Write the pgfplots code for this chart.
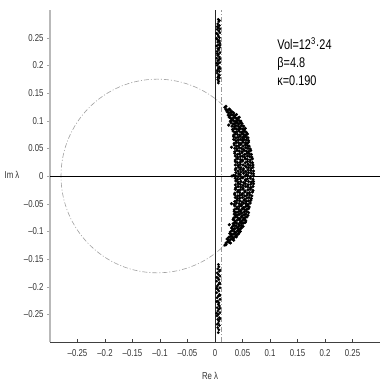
\documentclass[border=0pt]{standalone}
\usepackage{fontspec}
\setmainfont{Liberation Sans}
\newfontfamily\narrow[FakeStretch=0.78]{Liberation Sans}
\usepackage{pgfplots}
\usepackage{pgfplotstable}
\pgfplotsset{compat=1.18}

% eigenvalues: crescent near the real axis
\pgfplotstableread[row sep=\\]{x y\\
0.037 0.001\\ 0.042 -0.001\\ 0.046 0.002\\ 0.051 -0.002\\ 0.055 0.000\\ 0.060 0.001\\ 0.065 -0.001\\ 0.070 0.000\\ 0.031 0.000\\ 0.034 0.001\\
0.038 0.006\\ 0.043 0.004\\ 0.047 0.007\\ 0.052 0.005\\ 0.057 0.003\\ 0.061 0.006\\ 0.066 0.005\\ 0.070 0.004\\
0.037 -0.004\\ 0.041 -0.006\\ 0.046 -0.005\\ 0.050 -0.003\\ 0.055 -0.007\\ 0.059 -0.005\\ 0.064 -0.004\\ 0.069 -0.006\\
0.037 0.011\\ 0.042 0.009\\ 0.046 0.012\\ 0.051 0.010\\ 0.056 0.008\\ 0.060 0.011\\ 0.065 0.010\\ 0.070 0.009\\
0.038 -0.009\\ 0.042 -0.011\\ 0.047 -0.010\\ 0.052 -0.012\\ 0.056 -0.009\\ 0.061 -0.010\\ 0.066 -0.011\\ 0.070 -0.010\\
0.038 0.014\\ 0.043 0.016\\ 0.047 0.015\\ 0.052 0.013\\ 0.057 0.016\\ 0.061 0.015\\ 0.066 0.014\\ 0.069 0.016\\
0.037 -0.016\\ 0.042 -0.014\\ 0.046 -0.015\\ 0.051 -0.017\\ 0.055 -0.014\\ 0.060 -0.016\\ 0.065 -0.015\\ 0.070 -0.014\\
0.037 0.020\\ 0.042 0.019\\ 0.046 0.021\\ 0.051 0.020\\ 0.055 0.018\\ 0.060 0.021\\ 0.064 0.019\\ 0.069 0.020\\
0.038 -0.021\\ 0.042 -0.019\\ 0.047 -0.020\\ 0.051 -0.022\\ 0.056 -0.019\\ 0.060 -0.020\\ 0.065 -0.021\\ 0.069 -0.019\\
0.037 0.026\\ 0.041 0.024\\ 0.046 0.025\\ 0.050 0.027\\ 0.055 0.024\\ 0.059 0.026\\ 0.064 0.025\\ 0.068 0.024\\
0.037 -0.024\\ 0.042 -0.026\\ 0.046 -0.025\\ 0.051 -0.024\\ 0.055 -0.027\\ 0.060 -0.025\\ 0.064 -0.024\\ 0.069 -0.026\\
0.037 0.029\\ 0.041 0.031\\ 0.046 0.030\\ 0.050 0.029\\ 0.055 0.031\\ 0.059 0.030\\ 0.064 0.029\\ 0.068 0.031\\
0.036 -0.031\\ 0.041 -0.029\\ 0.045 -0.030\\ 0.050 -0.032\\ 0.054 -0.029\\ 0.059 -0.031\\ 0.063 -0.030\\ 0.068 -0.029\\
0.037 0.036\\ 0.041 0.034\\ 0.046 0.035\\ 0.050 0.036\\ 0.054 0.034\\ 0.059 0.036\\ 0.063 0.035\\ 0.067 0.034\\
0.036 -0.034\\ 0.041 -0.036\\ 0.045 -0.035\\ 0.049 -0.034\\ 0.054 -0.036\\ 0.058 -0.035\\ 0.063 -0.034\\ 0.067 -0.036\\
0.036 0.041\\ 0.041 0.039\\ 0.045 0.040\\ 0.049 0.042\\ 0.054 0.039\\ 0.058 0.041\\ 0.062 0.040\\ 0.066 0.039\\
0.037 -0.039\\ 0.041 -0.041\\ 0.045 -0.040\\ 0.050 -0.039\\ 0.054 -0.042\\ 0.058 -0.040\\ 0.062 -0.039\\ 0.066 -0.041\\
0.036 0.044\\ 0.040 0.046\\ 0.044 0.045\\ 0.049 0.044\\ 0.053 0.046\\ 0.057 0.045\\ 0.061 0.044\\ 0.065 0.046\\
0.036 -0.046\\ 0.040 -0.044\\ 0.045 -0.045\\ 0.049 -0.047\\ 0.053 -0.044\\ 0.057 -0.046\\ 0.061 -0.045\\ 0.065 -0.044\\
0.036 0.050\\ 0.040 0.049\\ 0.044 0.051\\ 0.048 0.050\\ 0.052 0.048\\ 0.056 0.051\\ 0.060 0.050\\ 0.064 0.049\\ 0.030 0.052\\
0.035 -0.051\\ 0.039 -0.049\\ 0.044 -0.050\\ 0.048 -0.052\\ 0.052 -0.049\\ 0.056 -0.050\\ 0.060 -0.051\\ 0.064 -0.049\\ 0.030 -0.050\\
0.035 0.056\\ 0.039 0.054\\ 0.043 0.055\\ 0.047 0.057\\ 0.051 0.054\\ 0.055 0.056\\ 0.059 0.055\\ 0.062 0.054\\
0.036 -0.054\\ 0.040 -0.056\\ 0.044 -0.055\\ 0.048 -0.054\\ 0.052 -0.057\\ 0.056 -0.055\\ 0.059 -0.054\\ 0.062 -0.056\\
0.035 0.059\\ 0.039 0.061\\ 0.043 0.060\\ 0.047 0.059\\ 0.051 0.061\\ 0.055 0.060\\ 0.058 0.059\\ 0.061 0.061\\
0.035 -0.061\\ 0.039 -0.059\\ 0.043 -0.060\\ 0.047 -0.062\\ 0.050 -0.059\\ 0.054 -0.061\\ 0.058 -0.060\\ 0.061 -0.059\\
0.034 0.066\\ 0.038 0.064\\ 0.042 0.065\\ 0.046 0.066\\ 0.050 0.064\\ 0.053 0.066\\ 0.057 0.065\\ 0.061 0.064\\
0.035 -0.064\\ 0.038 -0.066\\ 0.042 -0.065\\ 0.046 -0.064\\ 0.049 -0.067\\ 0.053 -0.065\\ 0.057 -0.064\\ 0.061 -0.066\\
0.034 0.071\\ 0.038 0.069\\ 0.042 0.070\\ 0.046 0.072\\ 0.050 0.069\\ 0.053 0.071\\ 0.057 0.070\\ 0.060 0.069\\
0.035 -0.069\\ 0.038 -0.071\\ 0.042 -0.070\\ 0.045 -0.069\\ 0.049 -0.072\\ 0.053 -0.070\\ 0.056 -0.069\\ 0.060 -0.071\\
0.034 0.074\\ 0.037 0.076\\ 0.041 0.075\\ 0.045 0.074\\ 0.049 0.076\\ 0.052 0.075\\ 0.056 0.074\\ 0.059 0.076\\
0.034 -0.076\\ 0.037 -0.074\\ 0.041 -0.075\\ 0.045 -0.077\\ 0.048 -0.074\\ 0.052 -0.076\\ 0.055 -0.075\\ 0.058 -0.074\\
0.033 0.081\\ 0.037 0.079\\ 0.040 0.080\\ 0.044 0.081\\ 0.048 0.079\\ 0.051 0.080\\ 0.054 0.081\\ 0.057 0.079\\
0.033 -0.079\\ 0.036 -0.081\\ 0.040 -0.080\\ 0.044 -0.079\\ 0.047 -0.082\\ 0.050 -0.080\\ 0.054 -0.079\\ 0.056 -0.081\\
0.032 0.084\\ 0.036 0.086\\ 0.039 0.085\\ 0.043 0.084\\ 0.046 0.086\\ 0.050 0.085\\ 0.053 0.084\\ 0.055 0.086\\
0.033 -0.086\\ 0.036 -0.084\\ 0.039 -0.085\\ 0.043 -0.087\\ 0.046 -0.084\\ 0.049 -0.086\\ 0.052 -0.085\\ 0.055 -0.084\\
0.031 0.090\\ 0.035 0.089\\ 0.038 0.091\\ 0.042 0.090\\ 0.045 0.088\\ 0.048 0.091\\ 0.052 0.090\\ 0.025 0.092\\
0.032 -0.091\\ 0.035 -0.089\\ 0.038 -0.090\\ 0.042 -0.092\\ 0.045 -0.089\\ 0.048 -0.090\\ 0.051 -0.091\\ 0.026 -0.088\\
0.029 0.096\\ 0.033 0.094\\ 0.036 0.095\\ 0.040 0.096\\ 0.043 0.094\\ 0.046 0.096\\ 0.049 0.095\\
0.030 -0.094\\ 0.033 -0.096\\ 0.036 -0.095\\ 0.040 -0.094\\ 0.043 -0.097\\ 0.046 -0.095\\ 0.048 -0.094\\
0.028 0.099\\ 0.031 0.101\\ 0.034 0.100\\ 0.038 0.099\\ 0.041 0.101\\ 0.044 0.100\\ 0.047 0.099\\
0.028 -0.101\\ 0.031 -0.099\\ 0.035 -0.100\\ 0.038 -0.102\\ 0.041 -0.099\\ 0.044 -0.101\\ 0.046 -0.100\\
0.026 0.106\\ 0.029 0.104\\ 0.033 0.105\\ 0.036 0.106\\ 0.039 0.104\\ 0.042 0.105\\ 0.044 0.106\\
0.027 -0.104\\ 0.030 -0.106\\ 0.033 -0.105\\ 0.036 -0.104\\ 0.039 -0.107\\ 0.042 -0.105\\ 0.043 -0.104\\
0.024 0.110\\ 0.027 0.109\\ 0.030 0.111\\ 0.033 0.110\\ 0.036 0.109\\ 0.039 0.111\\
0.025 -0.111\\ 0.028 -0.109\\ 0.031 -0.110\\ 0.034 -0.112\\ 0.037 -0.109\\ 0.039 -0.110\\
0.022 0.116\\ 0.025 0.114\\ 0.028 0.115\\ 0.031 0.116\\ 0.034 0.114\\
0.022 -0.114\\ 0.025 -0.116\\ 0.028 -0.115\\ 0.031 -0.114\\ 0.034 -0.116\\
0.020 0.120\\ 0.023 0.119\\ 0.026 0.121\\ 0.028 0.119\\
0.020 -0.121\\ 0.023 -0.119\\ 0.026 -0.120\\ 0.028 -0.121\\
0.018 0.124\\ 0.020 0.126\\ 0.018 -0.125\\ 0.020 -0.124\\
}\crescent

% eigenvalues: the two strips near the imaginary axis
\pgfplotstableread[row sep=\\]{x y\\
0.006 0.283\\ 0.007 0.279\\ 0.005 0.275\\ 0.008 0.272\\ 0.006 0.268\\ 0.004 0.265\\ 0.007 0.262\\ 0.009 0.259\\
0.005 0.256\\ 0.006 0.253\\ 0.008 0.250\\ 0.004 0.247\\ 0.007 0.245\\ 0.005 0.242\\ 0.009 0.240\\ 0.006 0.237\\
0.003 0.235\\ 0.008 0.232\\ 0.005 0.230\\ 0.007 0.228\\ 0.004 0.225\\ 0.009 0.223\\ 0.006 0.220\\ 0.005 0.218\\
0.008 0.215\\ 0.003 0.213\\ 0.007 0.210\\ 0.005 0.208\\ 0.009 0.205\\ 0.006 0.203\\ 0.004 0.200\\ 0.008 0.197\\
0.006 0.195\\ 0.005 0.192\\ 0.008 0.189\\ 0.004 0.186\\ 0.007 0.183\\ 0.006 0.180\\ 0.008 0.177\\ 0.005 0.174\\
0.007 0.171\\ 0.006 0.168\\ 0.008 0.281\\ 0.004 0.270\\ 0.009 0.266\\ 0.003 0.258\\ 0.008 0.244\\ 0.003 0.249\\
0.009 0.236\\ 0.004 0.221\\ 0.009 0.212\\ 0.003 0.204\\ 0.009 0.194\\ 0.004 0.190\\ 0.008 0.182\\ 0.005 0.178\\
0.006 -0.160\\ 0.007 -0.164\\ 0.005 -0.168\\ 0.008 -0.172\\ 0.004 -0.175\\ 0.006 -0.178\\ 0.009 -0.181\\ 0.005 -0.184\\
0.007 -0.187\\ 0.003 -0.190\\ 0.008 -0.193\\ 0.006 -0.196\\ 0.004 -0.199\\ 0.009 -0.202\\ 0.005 -0.205\\ 0.007 -0.208\\
0.003 -0.211\\ 0.008 -0.214\\ 0.006 -0.217\\ 0.004 -0.220\\ 0.009 -0.223\\ 0.005 -0.226\\ 0.007 -0.229\\ 0.006 -0.232\\
0.008 -0.235\\ 0.004 -0.238\\ 0.007 -0.241\\ 0.005 -0.244\\ 0.009 -0.247\\ 0.006 -0.250\\ 0.004 -0.253\\ 0.008 -0.256\\
0.005 -0.259\\ 0.007 -0.262\\ 0.006 -0.266\\ 0.008 -0.270\\ 0.005 -0.274\\ 0.007 -0.278\\ 0.006 -0.283\\
0.009 -0.170\\ 0.003 -0.183\\ 0.009 -0.195\\ 0.003 -0.203\\ 0.009 -0.216\\ 0.003 -0.227\\ 0.009 -0.239\\ 0.003 -0.248\\
0.009 -0.258\\ 0.004 -0.268\\
}\strips

\begin{document}
\begin{tikzpicture}
\path[use as bounding box] (-50pt,-40pt) rectangle (332pt,342pt);
\begin{axis}[scale only axis, width=330pt, height=332pt,
  xmin=-0.3, xmax=0.3, ymin=-0.3, ymax=0.3,
  axis x line*=bottom, axis y line*=left,
  x axis line style={-, black!75, line width=0.8pt},
  y axis line style={-, gray!55, line width=1.3pt},
  tick align=outside, major tick length=3pt,
  xtick style={black!75, yshift=3pt}, ytick style={gray!70},
  xtick={-0.25,-0.2,-0.15,-0.1,-0.05,0,0.05,0.1,0.15,0.2,0.25},
  ytick={-0.25,-0.2,-0.15,-0.1,-0.05,0,0.05,0.1,0.15,0.2,0.25},
  xticklabels={–0.25,–0.2,–0.15,–0.1,–0.05,0,0.05,0.1,0.15,0.2,0.25},
  yticklabels={–0.25,–0.2,–0.15,–0.1,–0.05,0,0.05,0.1,0.15,0.2,0.25},
  tick label style={font=\narrow\fontsize{10}{11}\selectfont, text=black!80},
  xticklabel style={yshift=-1pt},
  xlabel={Re λ}, ylabel={Im λ},
  every axis x label/.style={at={(axis description cs:0.485,0)}, anchor=center, yshift=-34pt,
    font=\narrow\fontsize{10}{11}\selectfont, text=black!80},
  every axis y label/.style={at={(axis description cs:0,0.503)}, anchor=center, xshift=-38pt,
    font=\narrow\fontsize{10}{11}\selectfont, text=black!80},
  clip=false]
  \draw[gray!75, line width=0.6pt, dash pattern=on 5pt off 2pt on 1pt off 2pt]
    (axis cs:-0.105,0) ellipse [x radius=0.175, y radius=0.175];
  \addplot[gray!80, line width=0.6pt, dash pattern=on 5pt off 2pt on 1pt off 2pt] coordinates {(0.011,-0.3) (0.011,0.3)};
  \addplot[black, line width=0.9pt] coordinates {(-0.3,0) (0.3,0)};
  \addplot[black!85, line width=0.6pt] coordinates {(0,-0.3) (0,0.3)};
  \addplot[only marks, mark=*, mark size=1.4pt, black] table {\crescent};
  \addplot[only marks, mark=*, mark size=1.2pt, black] table {\strips};
  \node[anchor=north west, inner sep=0pt, align=left, font=\narrow\fontsize{14}{18}\selectfont]
    at (axis cs:0.113,0.25) {Vol=12\textsuperscript{3}·24\\β=4.8\\κ=0.190};
\end{axis}
\end{tikzpicture}
\end{document}
